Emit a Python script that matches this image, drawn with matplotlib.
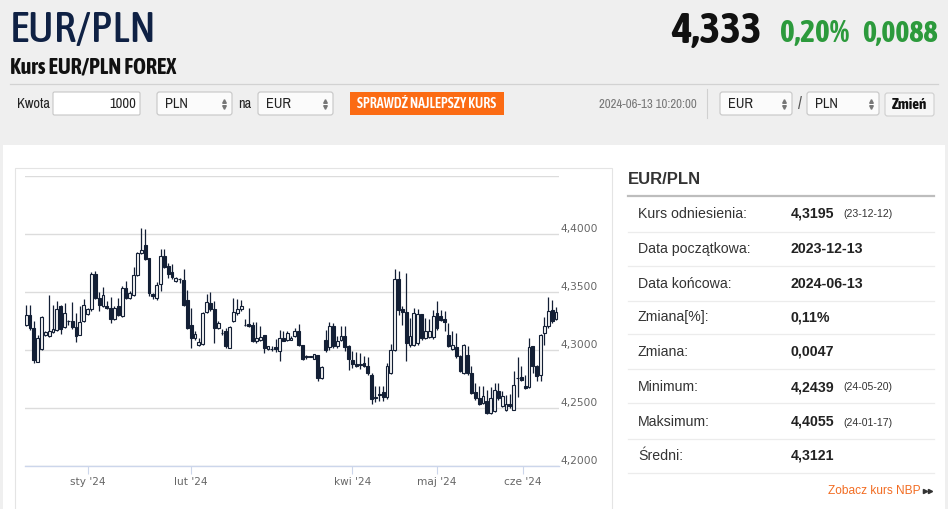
import numpy as np
import matplotlib
matplotlib.use("Agg")
import matplotlib.pyplot as plt
from matplotlib.patches import Rectangle, FancyBboxPatch
from matplotlib import transforms, font_manager

# ---------------- data ----------------
opens = [4.3217, 4.3304, 4.3188, 4.2898, 4.3009, 4.3130, 4.3116, 4.3153, 4.3174, 4.3377,
         4.3194, 4.3246, 4.3246, 4.3197, 4.3130, 4.3246, 4.3310, 4.3348, 4.3652, 4.3443,
         4.3377, 4.3382, 4.3362, 4.3266, 4.3377, 4.3290, 4.3536, 4.3443, 4.3469, 4.3646,
         4.3832, 4.3907, 4.3791, 4.3478, 4.3443, 4.3565, 4.3812, 4.3724, 4.3672, 4.3594,
         4.3609, 4.3603, 4.3426, 4.3217, 4.3101, 4.3043, 4.3049, 4.3324, 4.3400, 4.3348,
         4.3188, 4.3145, 4.3159, 4.3020, 4.3246, 4.3321, 4.3353, 4.3217, 4.3226, 4.3217,
         4.3072, 4.3087, 4.3130, 4.3006, 4.3009, 4.3023, 4.2991, 4.3101, 4.3081, 4.3088,
         4.3117, 4.3160, 4.3039, 4.2946, 4.2945, 4.2923, 4.2952, 4.2756, 4.3088, 4.3024,
         4.3203, 4.3030, 4.3082, 4.3117, 4.3030, 4.2915, 4.2878, 4.2873, 4.2886, 4.2857,
         4.2785, 4.2590, 4.2613, 4.2635, 4.2592, 4.2799, 4.2996, 4.3607, 4.3356, 4.3324,
         4.3045, 4.3045, 4.3059, 4.3310, 4.3102, 4.3111, 4.3111, 4.3318, 4.3290, 4.3266,
         4.3131, 4.3007, 4.3024, 4.2949, 4.2799, 4.2958, 4.2799, 4.2632, 4.2584, 4.2540,
         4.2555, 4.2454, 4.2468, 4.2641, 4.2512, 4.2483, 4.2535, 4.2483, 4.2757, 4.2765,
         4.2690, 4.2679, 4.3030, 4.2863, 4.2785, 4.3146, 4.3203, 4.3347, 4.3269]
highs = [4.3385, 4.3385, 4.3252, 4.3130, 4.3290, 4.3165, 4.3472, 4.3391, 4.3420, 4.3391,
         4.3403, 4.3260, 4.3411, 4.3319, 4.3377, 4.3435, 4.3362, 4.3672, 4.3681, 4.3498,
         4.3542, 4.3420, 4.3455, 4.3382, 4.3449, 4.3551, 4.3594, 4.3507, 4.3716, 4.3841,
         4.4052, 4.4044, 4.3791, 4.3492, 4.3588, 4.3870, 4.3870, 4.3753, 4.3739, 4.3629,
         4.3623, 4.3696, 4.3513, 4.3362, 4.3159, 4.3101, 4.3327, 4.3478, 4.3501, 4.3420,
         4.3246, 4.3182, 4.3188, 4.3202, 4.3443, 4.3435, 4.3426, 4.3266, 4.3362, 4.3240,
         4.3240, 4.3202, 4.3130, 4.3037, 4.3029, 4.3095, 4.3174, 4.3165, 4.3159, 4.3117,
         4.3189, 4.3226, 4.3045, 4.2958, 4.2950, 4.2964, 4.2958, 4.2857, 4.3169, 4.3241,
         4.3232, 4.3117, 4.3203, 4.3203, 4.3045, 4.2987, 4.2978, 4.2972, 4.2944, 4.2935,
         4.2799, 4.2685, 4.2690, 4.2690, 4.2886, 4.3053, 4.3699, 4.3679, 4.3376, 4.3664,
         4.3275, 4.3361, 4.3353, 4.3310, 4.3275, 4.3266, 4.3347, 4.3425, 4.3347, 4.3333,
         4.3232, 4.3166, 4.3146, 4.2958, 4.3051, 4.3030, 4.2857, 4.2713, 4.2685, 4.2690,
         4.2650, 4.2676, 4.2713, 4.2713, 4.2641, 4.2612, 4.2621, 4.2814, 4.2938, 4.2863,
         4.2785, 4.3102, 4.3036, 4.2872, 4.3140, 4.3284, 4.3457, 4.3428, 4.3367]
lows = [4.3202, 4.3174, 4.2884, 4.2892, 4.3000, 4.3121, 4.3107, 4.3145, 4.3165, 4.3136,
        4.3188, 4.3217, 4.3182, 4.3066, 4.3124, 4.3240, 4.3304, 4.3339, 4.3435, 4.3339,
        4.3368, 4.3348, 4.3229, 4.3260, 4.3290, 4.3281, 4.3435, 4.3435, 4.3463, 4.3637,
        4.3826, 4.3774, 4.3463, 4.3435, 4.3426, 4.3507, 4.3710, 4.3623, 4.3609, 4.3588,
        4.3580, 4.3377, 4.3182, 4.3014, 4.3087, 4.3037, 4.3043, 4.3319, 4.3339, 4.3058,
        4.3182, 4.3130, 4.3020, 4.3014, 4.3240, 4.3304, 4.3339, 4.3202, 4.3194, 4.3066,
        4.3058, 4.3078, 4.2976, 4.3000, 4.2991, 4.2985, 4.2904, 4.3072, 4.3072, 4.3082,
        4.3108, 4.3036, 4.2915, 4.2923, 4.2938, 4.2921, 4.2728, 4.2748, 4.2978, 4.3001,
        4.3016, 4.3016, 4.3074, 4.2987, 4.2828, 4.2843, 4.2851, 4.2834, 4.2851, 4.2785,
        4.2535, 4.2546, 4.2555, 4.2555, 4.2575, 4.2794, 4.2987, 4.3304, 4.3218, 4.2901,
        4.3024, 4.3036, 4.3045, 4.3088, 4.3094, 4.3102, 4.3094, 4.3174, 4.3246, 4.3160,
        4.3024, 4.2996, 4.2929, 4.2805, 4.2794, 4.2785, 4.2621, 4.2569, 4.2526, 4.2532,
        4.2448, 4.2448, 4.2460, 4.2569, 4.2506, 4.2468, 4.2497, 4.2477, 4.2592, 4.2728,
        4.2661, 4.2670, 4.2799, 4.2728, 4.2728, 4.3045, 4.3189, 4.3232, 4.3261]
closes = [4.3298, 4.3188, 4.2912, 4.3101, 4.3284, 4.3153, 4.3159, 4.3179, 4.3348, 4.3182,
          4.3319, 4.3249, 4.3194, 4.3121, 4.3240, 4.3391, 4.3353, 4.3652, 4.3443, 4.3391,
          4.3472, 4.3362, 4.3269, 4.3362, 4.3298, 4.3530, 4.3449, 4.3487, 4.3646, 4.3832,
          4.3861, 4.3783, 4.3492, 4.3463, 4.3556, 4.3812, 4.3716, 4.3652, 4.3632, 4.3617,
          4.3612, 4.3385, 4.3188, 4.3101, 4.3139, 4.3066, 4.3319, 4.3414, 4.3348, 4.3188,
          4.3232, 4.3142, 4.3037, 4.3194, 4.3327, 4.3353, 4.3374, 4.3214, 4.3202, 4.3072,
          4.3101, 4.3110, 4.3014, 4.3037, 4.3006, 4.3003, 4.3101, 4.3078, 4.3145, 4.3105,
          4.3160, 4.3045, 4.2921, 4.2941, 4.2942, 4.2964, 4.2756, 4.2851, 4.2996, 4.3203,
          4.3030, 4.3074, 4.3122, 4.3024, 4.2921, 4.2880, 4.2863, 4.2871, 4.2863, 4.2799,
          4.2575, 4.2588, 4.2611, 4.2592, 4.2857, 4.2996, 4.3612, 4.3347, 4.3324, 4.3059,
          4.3122, 4.3318, 4.3313, 4.3102, 4.3166, 4.3160, 4.3290, 4.3189, 4.3255, 4.3241,
          4.3036, 4.3039, 4.2944, 4.2814, 4.3045, 4.2799, 4.2627, 4.2584, 4.2535, 4.2604,
          4.2454, 4.2584, 4.2656, 4.2584, 4.2598, 4.2535, 4.2512, 4.2699, 4.2755, 4.2742,
          4.2670, 4.3021, 4.2857, 4.2776, 4.3131, 4.3203, 4.3333, 4.3252, 4.3327]

month_tick_pos = [16, 43, 85, 107, 129.4]
month_tick_labels = ["sty '24", "lut '24", "kwi '24", "maj '24", "cze '24"]
y_ticks = [4.20, 4.25, 4.30, 4.35, 4.40, 4.45]
y_labels = ["4,2000", "4,2500", "4,3000", "4,3500", "4,4000", ""]

stats_labels = ["Kurs odniesienia:", "Data początkowa:", "Data końcowa:", "Zmiana[%]:",
                "Zmiana:", "Minimum:", "Maksimum:", "Średni:"]
stats_values = ["4,3195", "2023-12-13", "2024-06-13", "0,11%", "0,0047", "4,2439",
                "4,4055", "4,3121"]
stats_notes = ["(23-12-12)", "", "", "", "", "(24-05-20)", "(24-01-17)", ""]

# ---------------- fonts ----------------
_avail = {f.name for f in font_manager.fontManager.ttflist}


def pick(cands):
    for cnd in cands:
        if cnd in _avail:
            return [cnd, "Liberation Sans", "DejaVu Sans"]
    return ["Liberation Sans", "DejaVu Sans"]


NARROW = pick(["Archivo Narrow", "Liberation Sans Narrow", "Asap Condensed"])
BOLDC = pick(["Asap Condensed", "Barlow Semi Condensed", "Liberation Sans Narrow"])
SANS = ["Liberation Sans", "DejaVu Sans"]

# ---------------- figure ----------------
W, H = 948, 509
fig = plt.figure(figsize=(W / 100, H / 100), dpi=100)
fig.patch.set_facecolor("#efefef")
renderer = fig.canvas.get_renderer()

axo = fig.add_axes([0, 0, 1, 1], zorder=0)
axo.set_xlim(0, W)
axo.set_ylim(H, 0)
axo.axis("off")


def fit_text(x, y, s, width, fs=10, **kw):
    t = axo.text(x, y, s, fontsize=fs, **kw)
    bb = t.get_window_extent(renderer)
    if bb.width > 0:
        t.set_fontsize(fs * width / bb.width)
    return t


# page panels
axo.add_patch(Rectangle((3, 145), 942, 380, fc="white", ec="none"))
axo.add_patch(Rectangle((15.5, 167.5), 597, 360, fc="white", ec="#e4e4e4", lw=0.8))
axo.plot([10, 938], [83.5, 83.5], color="#d2d2d2", lw=0.9)

# header texts
fit_text(10, 30, "EUR/PLN", 147, 28, family=BOLDC, weight=500, color="#0f2144",
         va="center")
fit_text(10, 67, "Kurs EUR/PLN FOREX", 165, 13, family=BOLDC, weight="bold",
         color="#111111", va="center")
fit_text(762, 31, "4,333", 90, 28, family=BOLDC, weight="bold", color="#111111",
         va="center", ha="right")
fit_text(780, 33.5, "0,20%", 69, 20, family=BOLDC, weight="bold", color="#2c9a3c",
         va="center", ha="left")
fit_text(938, 33.5, "0,0088", 76, 20, family=BOLDC, weight="bold", color="#2c9a3c",
         va="center", ha="right")


# form row
def box(x0, x1, y0=92, y1=115, fc="white", ec="#c6c6c6", r=2.5):
    axo.add_patch(FancyBboxPatch((x0, y0), x1 - x0, y1 - y0,
                                 boxstyle=f"round,pad=0,rounding_size={r}",
                                 fc=fc, ec=ec, lw=0.8))


kw_t = fit_text(17, 103.5, "Kwota", 33, 10, family=NARROW, color="#222222", va="center")
form_fs = kw_t.get_fontsize()


def select(x0, x1, label):
    box(x0, x1, fc="#fbfbfb")
    axo.text(x0 + 8, 103.5, label, family=NARROW, fontsize=form_fs, color="#222222",
             va="center")
    axo.plot([x1 - 8], [100.5], marker="^", ms=2.6, color="#777777", ls="none")
    axo.plot([x1 - 8], [106.5], marker="v", ms=2.6, color="#777777", ls="none")


box(53, 140, r=1.5)
axo.text(136, 103.5, "1000", family=NARROW, fontsize=form_fs, color="#222222",
         va="center", ha="right")
select(157, 232, "PLN")
axo.text(238, 103.5, "na", family=NARROW, fontsize=form_fs, color="#222222", va="center")
select(258, 333, "EUR")
axo.add_patch(Rectangle((350, 92), 154, 23, fc="#fb6b14", ec="none"))
fit_text(427, 103.5, "SPRAWDŹ NAJLEPSZY KURS", 140, 9, family=BOLDC, weight=600,
         color="white", va="center", ha="center")
fit_text(697, 104, "2024-06-13 10:20:00", 97, 9, family=NARROW, color="#777777",
         va="center", ha="right")
axo.plot([707.5, 707.5], [89, 118], color="#d0d0d0", lw=0.8)
select(720, 792, "EUR")
axo.text(800, 103.5, "/", family=NARROW, fontsize=form_fs * 1.2, color="#555555",
         va="center", ha="center")
select(807, 879, "PLN")
box(885, 934, 93, 116, fc="#f6f6f6", ec="#cfcfcf")
fit_text(909.5, 104.5, "Zmień", 35, 10, family=BOLDC, weight="bold", color="#111111",
         va="center", ha="center")

# right statistics panel
axo.text(628, 180, "EUR/PLN", family=SANS, fontsize=12, weight="bold", color="#333333",
         va="center")
axo.plot([628, 934], [196, 196], color="#bdbdbd", lw=1.6)
row_text_y = [213.5, 249, 283.5, 317.5, 352, 387, 422, 456]
row_line_y = [232, 266.3, 300.7, 334.3, 369, 403.3, 439.3, 473.3]
for ty, ly, lab, val, note in zip(row_text_y, row_line_y, stats_labels, stats_values,
                                  stats_notes):
    axo.text(638, ty, lab, family=SANS, fontsize=10.2, color="#333333", va="center")
    axo.text(791, ty, val, family=SANS, fontsize=10.2, weight="bold", color="#222222",
             va="center")
    if note:
        axo.text(843, ty + 0.5, note, family=SANS, fontsize=7.6, color="#333333",
                 va="center")
    axo.plot([628, 934], [ly, ly], color="#ececec", lw=0.9)
axo.text(921, 490.5, "Zobacz kurs NBP", family=SANS, fontsize=8.6, color="#f26c22",
         va="center", ha="right")
axo.plot([925.5, 930], [491, 491], marker=">", ms=3, color="#333333", ls="none")

# ---------------- candlestick chart ----------------
o = np.array(opens); h = np.array(highs); l = np.array(lows); c = np.array(closes)
n = len(o)
idx = np.arange(n)
up = c >= o

ax_left, ax_right = 25, 559
ax_top, ax_bot = 176, 465.7
ax = fig.add_axes([ax_left / W, 1 - ax_bot / H, (ax_right - ax_left) / W,
                   (ax_bot - ax_top) / H], zorder=2)
ax.set_facecolor("none")
ax.set_xlim(-0.3, n - 0.2)
ax.set_ylim(4.20, 4.45)

dark = "#131f35"
ax.vlines(idx, l, h, color=dark, lw=0.9, zorder=2)
body_bottom = np.minimum(o, c)
body_h = np.maximum(np.abs(c - o), 0.00035)
ax.bar(idx, body_h, bottom=body_bottom, width=0.74,
       color=np.where(up, "#f4f4f4", dark), edgecolor=dark, linewidth=0.8, zorder=3)

ax.set_yticks(y_ticks)
ax.yaxis.grid(True, color="#dcdcdc", lw=1)
ax.set_axisbelow(True)
ax.tick_params(axis="y", left=False, labelleft=False)
for s in ["top", "left", "right"]:
    ax.spines[s].set_visible(False)
ax.spines["bottom"].set_color("#ccd6eb")
ax.spines["bottom"].set_linewidth(1)

ax.set_xticks(month_tick_pos)
ax.set_xticklabels(month_tick_labels, family="DejaVu Sans", fontsize=7.6, color="#666666")
ax.tick_params(axis="x", direction="out", length=6, width=0.8, color="#ccd6eb", pad=2)

trans = transforms.blended_transform_factory(ax.transAxes, ax.transData)
trans = transforms.offset_copy(trans, fig=fig, x=1.5, y=5, units="dots")
for v, lab in zip(y_ticks, y_labels):
    if lab:
        ax.text(1.0, v, lab, transform=trans, family="DejaVu Sans", fontsize=7.7,
                color="#666666", va="center", ha="left", clip_on=False)

fig.savefig("out.png", dpi=100, facecolor=fig.get_facecolor())
